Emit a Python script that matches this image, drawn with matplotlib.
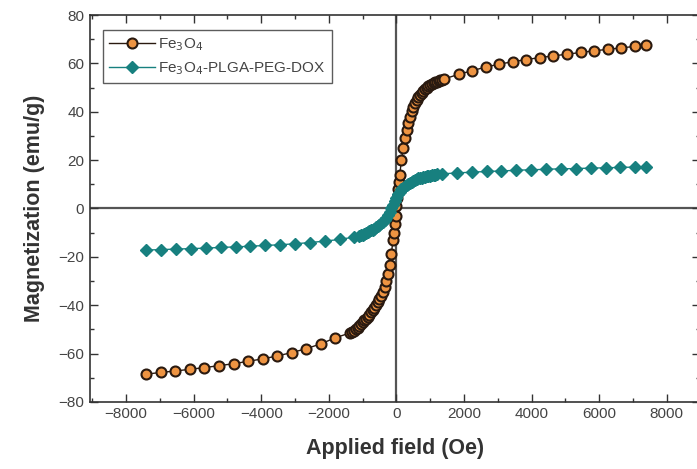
import matplotlib.pyplot as plt
import matplotlib.ticker as ticker

plt.rcParams['font.family'] = ['Liberation Sans', 'DejaVu Sans']

# Fe3O4 (orange circles)
fe_h = [-7400, -6970, -6540, -6110, -5680, -5250, -4820, -4390, -3960, -3530,
        -3100, -2670, -2240, -1810, -1380,
        -1300, -1250, -1200, -1150, -1100, -1050, -1000, -950, -900, -850,
        -800, -750, -700, -650, -600, -550, -500, -450, -400, -350, -300,
        -250, -200, -150, -100, -75, -50, -25, 0, 25, 50, 75, 100, 150, 200,
        250, 300, 350, 400, 450, 500, 550, 600, 650, 700, 750, 800, 850, 900,
        950, 1000, 1050, 1100, 1150, 1200, 1250, 1300, 1350, 1400,
        1850, 2250, 2650, 3050, 3450, 3850, 4250, 4650, 5050, 5450, 5850,
        6250, 6650, 7050, 7400]
fe_m = [-68.5, -67.8, -67.2, -66.5, -65.8, -65.0, -64.2, -63.2, -62.2, -61.0,
        -59.6, -58.0, -56.0, -53.5, -51.5,
        -51.0, -50.5, -50.0, -49.3, -48.5, -47.8, -47.0, -46.3, -45.5, -44.8,
        -44.0, -43.0, -42.0, -41.0, -40.0, -38.8, -37.5, -36.0, -34.5, -32.5, -30.0,
        -27.0, -23.5, -19.0, -13.0, -10.0, -6.5, -3.0, 1.0, 4.5, 8.0, 11.0, 14.0, 20.0, 25.0,
        29.0, 32.5, 35.5, 38.0, 40.2, 42.0, 43.6, 45.0, 46.1, 47.0, 47.8, 48.5, 49.3, 50.0,
        50.5, 51.0, 51.5, 52.0, 52.3, 52.5, 52.8, 53.0, 53.3, 53.5,
        55.5, 57.0, 58.5, 59.7, 60.7, 61.6, 62.4, 63.1, 63.8, 64.5, 65.2,
        65.8, 66.4, 67.0, 67.6]

# Fe3O4-PLGA-PEG-DOX (teal diamonds)
dox_h = [-7400, -6960, -6520, -6080, -5640, -5200, -4760, -4320, -3880, -3440,
         -3000, -2560, -2120, -1680, -1240,
         -1100, -1050, -1000, -950, -900, -850, -800, -750, -700, -650, -600,
         -550, -500, -450, -400, -350, -300, -250, -200, -150, -100, -50, 0,
         50, 100, 150, 200, 250, 300, 350, 400, 450, 500, 550, 600, 650, 700,
         750, 800, 850, 900, 950, 1000, 1050, 1100, 1150, 1200,
         1350, 1790, 2230, 2670, 3110, 3550, 3990, 4430, 4870, 5310, 5750,
         6190, 6630, 7070, 7400]
dox_m = [-17.2, -17.0, -16.8, -16.6, -16.4, -16.1, -15.9, -15.6, -15.3, -15.0,
         -14.6, -14.1, -13.5, -12.8, -11.8,
         -11.3, -11.0, -10.8, -10.5, -10.2, -9.9, -9.5, -9.1, -8.7, -8.3, -7.8,
         -7.3, -6.8, -6.2, -5.5, -4.7, -3.8, -2.6, -1.3, 0.0, 1.5, 3.0, 4.5,
         5.8, 7.0, 7.9, 8.6, 9.2, 9.8, 10.3, 10.7, 11.1, 11.5, 11.8, 12.1, 12.4, 12.6,
         12.8, 13.0, 13.2, 13.3, 13.5, 13.6, 13.8, 13.9, 14.0, 14.1,
         14.3, 14.7, 15.0, 15.3, 15.5, 15.8, 16.0, 16.2, 16.4, 16.5, 16.7,
         16.8, 17.0, 17.1, 17.2]

fig = plt.figure(figsize=(6.97, 4.69), dpi=100)
ax = fig.add_axes([0.129, 0.143, 0.875, 0.825])

ax.axhline(0, color='#555555', lw=1.6, zorder=1)
ax.axvline(0, color='#555555', lw=1.6, zorder=1)

ax.plot(fe_h, fe_m, '-o', color='#2a1a10', lw=1.0, markersize=7.2,
        markerfacecolor='#EE9442', markeredgecolor='#2a1a10', markeredgewidth=1.5,
        label='Fe$_3$O$_4$', zorder=3)
ax.plot(dox_h, dox_m, '-D', color='#17807F', lw=1.0, markersize=6.5,
        markerfacecolor='#17807F', markeredgecolor='#17807F',
        label='Fe$_3$O$_4$-PLGA-PEG-DOX', zorder=4)

ax.set_xlim(-9070, 8980)
ax.set_ylim(-80, 80)
ax.set_xticks(range(-8000, 8001, 2000))
ax.set_yticks(range(-80, 81, 20))
ax.xaxis.set_minor_locator(ticker.MultipleLocator(1000))
ax.yaxis.set_minor_locator(ticker.MultipleLocator(10))
ax.tick_params(which='both', direction='in', top=True, right=True,
               labelsize=11, labelcolor='#444444', color='#333333')
ax.tick_params(which='major', length=6, width=1.0, pad=4)
ax.tick_params(which='minor', length=3, width=1.0)
for s in ax.spines.values():
    s.set_color('#333333')
    s.set_linewidth(1.2)

ax.set_xlabel('Applied field (Oe)', fontsize=15.5, fontweight='bold', color='#333333', labelpad=12)
ax.set_ylabel('Magnetization (emu/g)', fontsize=15.5, fontweight='bold', color='#333333', labelpad=10)

leg = ax.legend(loc='upper left', bbox_to_anchor=(0.022, 0.96), fontsize=11,
                frameon=True, fancybox=False, edgecolor='#333333',
                handlelength=3.0, handletextpad=0.2, borderpad=0.4, labelspacing=0.45,
                borderaxespad=0)
leg.get_frame().set_linewidth(1.0)
for t in leg.get_texts():
    t.set_color('#444444')

fig.savefig('out.png', dpi=100)
